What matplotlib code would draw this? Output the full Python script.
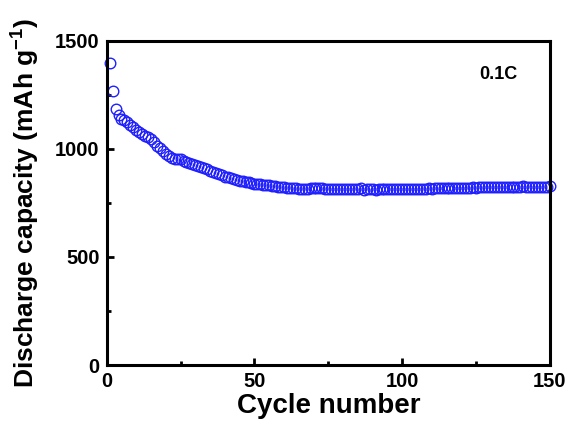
import numpy as np
import matplotlib
matplotlib.use('Agg')
import matplotlib.pyplot as plt
from matplotlib.ticker import MultipleLocator

plt.rcParams['font.family'] = ['Liberation Sans', 'DejaVu Sans']
plt.rcParams['font.weight'] = 'bold'
plt.rcParams['mathtext.fontset'] = 'custom'
plt.rcParams['mathtext.rm'] = 'Liberation Sans:bold'
plt.rcParams['mathtext.bf'] = 'Liberation Sans:bold'
plt.rcParams['mathtext.default'] = 'bf'

# discharge capacity per cycle (mAh/g)
capacity = [
    1398, 1268, 1185, 1155, 1140, 1135, 1125, 1112, 1100, 1088,
    1078, 1068, 1060, 1055, 1045, 1030, 1015, 1003, 990, 978,
    965, 958, 955, 955, 952, 945, 940, 935, 930, 926,
    920, 915, 910, 905, 898, 893, 888, 884, 878, 872,
    868, 864, 860, 856, 853, 850, 847, 845, 843, 840,
    838, 836, 834, 833, 831, 829, 828, 826, 824, 822,
    821, 819, 818, 817, 815, 814, 813, 816, 818, 820,
    819, 818, 817, 816, 815, 814, 815, 816, 815, 814,
    815, 816, 815, 814, 815, 818, 812, 815, 816, 815,
    812, 816, 815, 814, 813, 814, 815, 814, 813, 814,
    813, 814, 815, 814, 815, 816, 815, 816, 817, 816,
    817, 818, 817, 818, 819, 818, 819, 820, 819, 820,
    821, 820, 821, 822, 821, 822, 823, 822, 823, 824,
    823, 824, 825, 824, 825, 826, 825, 826, 825, 826,
    827, 826, 825, 826, 825, 824, 825, 826, 825, 827,
]
cycles = np.arange(1, len(capacity) + 1)

fig = plt.figure(figsize=(5.69, 4.30), dpi=100)
ax = fig.add_axes([0.1875, 0.151, 0.779, 0.754])

ax.plot(cycles, capacity, 'o', mfc='none', mec='#1f1fff', ms=7.6, mew=1.0,
        clip_on=False)

ax.set_xlim(0, 150)
ax.set_ylim(0, 1500)
ax.xaxis.set_major_locator(MultipleLocator(50))
ax.xaxis.set_minor_locator(MultipleLocator(25))
ax.yaxis.set_major_locator(MultipleLocator(500))
ax.yaxis.set_minor_locator(MultipleLocator(250))

for s in ax.spines.values():
    s.set_linewidth(2.2)
ax.tick_params(which='both', direction='in', width=2, top=False, right=False)
ax.tick_params(which='major', length=5, labelsize=14.5, pad=5)
ax.tick_params(which='minor', length=3)
for lab in ax.get_xticklabels() + ax.get_yticklabels():
    lab.set_fontweight('bold')

ax.set_xlabel('Cycle number', fontsize=20, fontweight='bold')
ax.set_ylabel(r'Discharge capacity (mAh g$^{-1}$)', fontsize=19, fontweight='bold')
ax.xaxis.set_label_coords(0.5, -0.085)
ax.yaxis.set_label_coords(-0.147, 0.5)

ax.text(132.5, 1343, '0.1C', fontsize=13, fontweight='bold', ha='center', va='center')

fig.savefig('out.png', dpi=100)
